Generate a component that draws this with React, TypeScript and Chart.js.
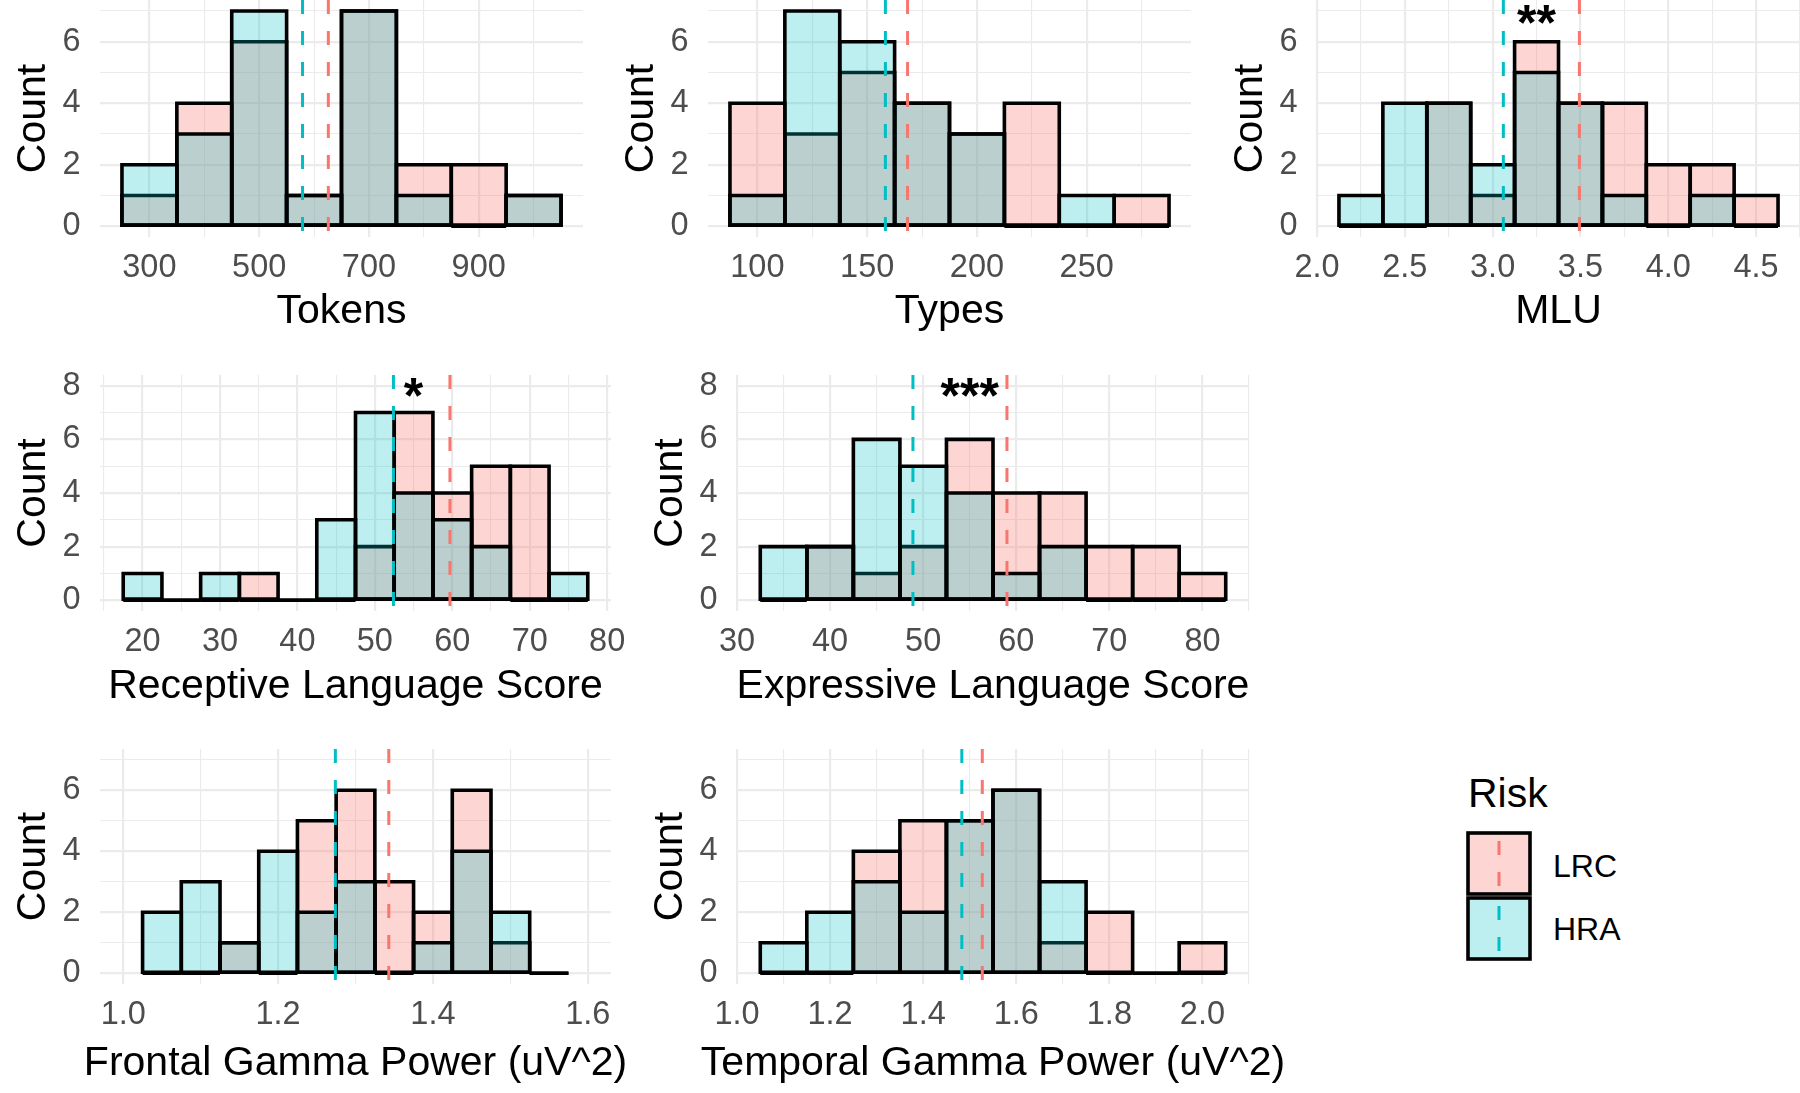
import React, { useEffect, useRef } from 'react';
import { Chart, registerables } from 'chart.js';

Chart.register(...registerables);

// ---------------- DATA ----------------
const GROUPS = ['LRC', 'HRA'];

// Tokens
const tokensBins = [300, 400, 500, 600, 700, 800, 900, 1000];
const tokensLRC = [1, 4, 6, 1, 7, 2, 2, 1];
const tokensHRA = [2, 3, 7, 1, 7, 1, 0, 1];
const tokensMeans = [626, 579]; // LRC, HRA
const tokensMajor = [300, 500, 700, 900];
const tokensMinor = [400, 600, 800, 1000];

// Types
const typesBins = [100, 125, 150, 175, 200, 225, 250, 275];
const typesLRC = [4, 3, 5, 4, 3, 4, 0, 1];
const typesHRA = [1, 7, 6, 4, 3, 0, 1, 0];
const typesMeans = [168.4, 158.3];
const typesMajor = [100, 150, 200, 250];
const typesMinor = [125, 175, 225, 275];

// MLU
const mluBins = [2.25, 2.5, 2.75, 3.0, 3.25, 3.5, 3.75, 4.0, 4.25, 4.5];
const mluLRC = [0, 0, 4, 1, 6, 4, 4, 2, 2, 1];
const mluHRA = [1, 4, 4, 2, 5, 4, 1, 0, 1, 0];
const mluMeans = [3.494, 3.061];
const mluMajor = [2.0, 2.5, 3.0, 3.5, 4.0, 4.5];
const mluMinor = [2.25, 2.75, 3.25, 3.75, 4.25, 4.75];

// Receptive Language Score
const recBins = [20, 25, 30, 35, 40, 45, 50, 55, 60, 65, 70, 75];
const recLRC = [0, 0, 0, 1, 0, 0, 2, 7, 4, 5, 5, 0];
const recHRA = [1, 0, 1, 0, 0, 3, 7, 4, 3, 2, 0, 1];
const recMeans = [59.7, 52.4];
const recMajor = [20, 30, 40, 50, 60, 70, 80];
const recMinor = [15, 25, 35, 45, 55, 65, 75];

// Expressive Language Score
const expBins = [35, 40, 45, 50, 55, 60, 65, 70, 75, 80];
const expLRC = [0, 2, 1, 2, 6, 4, 4, 2, 2, 1];
const expHRA = [2, 2, 6, 5, 4, 1, 2, 0, 0, 0];
const expMeans = [59.0, 48.9];
const expMajor = [30, 40, 50, 60, 70, 80];
const expMinor = [35, 45, 55, 65, 75, 85];

// Frontal Gamma Power
const frontBins = [1.05, 1.1, 1.15, 1.2, 1.25, 1.3, 1.35, 1.4, 1.45, 1.5, 1.55];
const frontLRC = [0, 0, 1, 0, 5, 6, 3, 2, 6, 1, 0];
const frontHRA = [2, 3, 1, 4, 2, 3, 0, 1, 4, 2, 0];
const frontMeans = [1.343, 1.274];
const frontMajor = [1.0, 1.2, 1.4, 1.6];
const frontMinor = [1.1, 1.3, 1.5];

// Temporal Gamma Power
const tempBins = [1.1, 1.2, 1.3, 1.4, 1.5, 1.6, 1.7, 1.8, 1.9, 2.0];
const tempLRC = [0, 0, 4, 5, 5, 6, 1, 2, 0, 1];
const tempHRA = [1, 2, 3, 2, 5, 6, 3, 0, 0, 0];
const tempMeans = [1.527, 1.483];
const tempMajor = [1.0, 1.2, 1.4, 1.6, 1.8, 2.0];
const tempMinor = [1.1, 1.3, 1.5, 1.7, 1.9, 2.1];

// y-axis ticks
const yMajor7 = [0, 2, 4, 6];
const yMinor7 = [1, 3, 5, 7];
const yMajor8 = [0, 2, 4, 6, 8];
const yMinor8 = [1, 3, 5, 7];

// significance labels
const mluStar = { label: '**', x: 3.25, y: 6.5 };
const recStar = { label: '*', x: 55, y: 7.5 };
const expStar = { label: '***', x: 55, y: 7.5 };

// ---------------- STYLE ----------------
const FONT = '"Liberation Sans", Arial, Helvetica, sans-serif';
const FILLS = ['rgba(248,118,109,0.3)', 'rgba(0,191,196,0.26)'];
const LINES = ['#F8766D', '#00BFC4'];
const GRID = '#EBEBEB';
const TICK_COLOR = '#4D4D4D';
const TITLE_SIZE = 41;

const near = (a: number, b: number) => Math.abs(a - b) < 1e-9;

type Panel = {
  title: string;
  bins: number[];
  lrc: number[];
  hra: number[];
  means: number[];
  xMin: number;
  xMax: number;
  xMajor: number[];
  xMinor: number[];
  dec: number;
  yMin: number;
  yMax: number;
  yMajor: number[];
  yMinor: number[];
  star: { label: string; x: number; y: number } | null;
  left: number;
  right: number;
  top: number;
  bottom: number;
  xAxisH: number;
  titleOffset: number;
};

const ROW1 = { top: 0, bottom: 237, yMin: -0.35, yMax: 7.357, xAxisH: 100, titleOffset: 74.5 };
const ROW2 = { top: 375, bottom: 611, yMin: -0.4, yMax: 8.4, xAxisH: 101, titleOffset: 75.5 };
const ROW3 = { top: 749, bottom: 984, yMin: -0.35, yMax: 7.35, xAxisH: 106, titleOffset: 79.5 };

const PANELS: Panel[] = [
  { title: 'Tokens', bins: tokensBins, lrc: tokensLRC, hra: tokensHRA, means: tokensMeans, xMin: 210, xMax: 1090, xMajor: tokensMajor, xMinor: tokensMinor, dec: 0, yMajor: yMajor7, yMinor: yMinor7, star: null, left: 100, right: 583, ...ROW1 },
  { title: 'Types', bins: typesBins, lrc: typesLRC, hra: typesHRA, means: typesMeans, xMin: 77.5, xMax: 297.5, xMajor: typesMajor, xMinor: typesMinor, dec: 0, yMajor: yMajor7, yMinor: yMinor7, star: null, left: 708, right: 1191, ...ROW1 },
  { title: 'MLU', bins: mluBins, lrc: mluLRC, hra: mluHRA, means: mluMeans, xMin: 2.0, xMax: 4.75, xMajor: mluMajor, xMinor: mluMinor, dec: 1, yMajor: yMajor7, yMinor: yMinor7, star: mluStar, left: 1317, right: 1800, ...ROW1 },
  { title: 'Receptive Language Score', bins: recBins, lrc: recLRC, hra: recHRA, means: recMeans, xMin: 14.5, xMax: 80.5, xMajor: recMajor, xMinor: recMinor, dec: 0, yMajor: yMajor8, yMinor: yMinor8, star: recStar, left: 100, right: 611, ...ROW2 },
  { title: 'Expressive Language Score', bins: expBins, lrc: expLRC, hra: expHRA, means: expMeans, xMin: 30, xMax: 85, xMajor: expMajor, xMinor: expMinor, dec: 0, yMajor: yMajor8, yMinor: yMinor8, star: expStar, left: 737, right: 1249, ...ROW2 },
  { title: 'Frontal Gamma Power (uV^2)', bins: frontBins, lrc: frontLRC, hra: frontHRA, means: frontMeans, xMin: 0.97, xMax: 1.63, xMajor: frontMajor, xMinor: frontMinor, dec: 1, yMajor: yMajor7, yMinor: yMinor7, star: null, left: 100, right: 611, ...ROW3 },
  { title: 'Temporal Gamma Power (uV^2)', bins: tempBins, lrc: tempLRC, hra: tempHRA, means: tempMeans, xMin: 1.0, xMax: 2.1, xMajor: tempMajor, xMinor: tempMinor, dec: 1, yMajor: yMajor7, yMinor: yMinor7, star: null, left: 737, right: 1249, ...ROW3 },
];

// ---------------- PLUGINS ----------------
const outlinePlugin = {
  id: 'histOutline',
  afterDatasetDraw(chart: any, args: any) {
    const meta = args.meta;
    if (meta.type !== 'bar') return;
    const ctx = chart.ctx;
    ctx.save();
    ctx.strokeStyle = '#000';
    ctx.lineWidth = 3.6;
    ctx.lineJoin = 'miter';
    meta.data.forEach((el: any) => {
      const { x, y, base, width } = el.getProps(['x', 'y', 'base', 'width'], true);
      const left = x - width / 2;
      const top = Math.min(y, base);
      const h = Math.abs(base - y);
      ctx.beginPath();
      if (h < 0.5) {
        ctx.moveTo(left, base);
        ctx.lineTo(left + width, base);
      } else {
        ctx.rect(left, top, width, h);
      }
      ctx.stroke();
    });
    ctx.restore();
  },
};

const starPlugin = {
  id: 'sigStar',
  afterDatasetsDraw(chart: any, _args: any, opts: any) {
    if (!opts || !opts.label) return;
    const ctx = chart.ctx;
    const px = chart.scales.x.getPixelForValue(opts.x);
    const py = chart.scales.y.getPixelForValue(opts.y);
    ctx.save();
    ctx.font = `bold 50px ${FONT}`;
    ctx.fillStyle = '#000';
    ctx.textAlign = 'center';
    ctx.textBaseline = 'middle';
    ctx.fillText(opts.label, px, py);
    ctx.restore();
  },
};

// x-axis title drawn without Chart.js' maxWidth squeezing
const xTitlePlugin = {
  id: 'xTitle',
  afterDraw(chart: any, _args: any, opts: any) {
    if (!opts || !opts.text) return;
    const ctx = chart.ctx;
    const area = chart.chartArea;
    ctx.save();
    ctx.font = `${TITLE_SIZE}px ${FONT}`;
    ctx.fillStyle = '#000';
    ctx.textAlign = 'center';
    ctx.textBaseline = 'middle';
    ctx.fillText(opts.text, (area.left + area.right) / 2, area.bottom + opts.offset);
    ctx.restore();
  },
};

const Y_AXIS_W = 100;
const TOP_PAD = 10;
const RIGHT_EXTRA = 48;

function HistPanel({ p }: { p: Panel }) {
  const ref = useRef<HTMLCanvasElement | null>(null);
  const cLeft = p.left - Y_AXIS_W;
  const topPad = p.top >= TOP_PAD ? TOP_PAD : p.top;
  const cTop = p.top - topPad;
  const cw = Math.ceil(p.right - cLeft + (p.right >= 1800 ? 0 : RIGHT_EXTRA));
  const rightPad = cw - (p.right - cLeft);
  const ch = Math.round(p.bottom - cTop + p.xAxisH);
  const bottomPad = ch - (p.bottom - cTop + p.xAxisH);

  useEffect(() => {
    const canvas = ref.current;
    if (!canvas) return;
    const xTicks = [...p.xMajor, ...p.xMinor].filter((v) => v >= p.xMin - 1e-9 && v <= p.xMax + 1e-9).sort((a, b) => a - b);
    const yTicks = [...p.yMajor, ...p.yMinor].sort((a, b) => a - b);
    const isXMajor = (v: number) => p.xMajor.some((m) => near(m, v));
    const isYMajor = (v: number) => p.yMajor.some((m) => near(m, v));
    const barData = (arr: number[]) => p.bins.map((b, i) => ({ x: b, y: arr[i] }));
    const meanLine = (m: number) => [
      { x: m, y: p.yMax },
      { x: m, y: p.yMin },
    ];
    const tickFont = { family: FONT, size: 32.5, lineHeight: 1 };
    const titleFont = { family: FONT, size: TITLE_SIZE, lineHeight: 1 };

    const chart = new Chart(canvas, {
      type: 'bar',
      data: {
        datasets: [
          { type: 'bar', label: GROUPS[0], data: barData(p.lrc), backgroundColor: FILLS[0], borderWidth: 0, grouped: false, categoryPercentage: 1, barPercentage: 1, order: 2 } as any,
          { type: 'bar', label: GROUPS[1], data: barData(p.hra), backgroundColor: FILLS[1], borderWidth: 0, grouped: false, categoryPercentage: 1, barPercentage: 1, order: 1 } as any,
          { type: 'line', label: GROUPS[0] + ' mean', data: meanLine(p.means[0]), borderColor: LINES[0], borderWidth: 3, borderDash: [14, 17], pointRadius: 0, fill: false, order: 0 } as any,
          { type: 'line', label: GROUPS[1] + ' mean', data: meanLine(p.means[1]), borderColor: LINES[1], borderWidth: 3, borderDash: [14, 17], pointRadius: 0, fill: false, order: 0 } as any,
        ],
      },
      options: {
        responsive: false,
        maintainAspectRatio: false,
        devicePixelRatio: 1,
        animation: false,
        events: [],
        layout: { padding: { left: 0, top: topPad, right: rightPad, bottom: bottomPad } },
        plugins: {
          legend: { display: false },
          tooltip: { enabled: false },
          sigStar: p.star || {},
          xTitle: { text: p.title, offset: p.titleOffset },
        } as any,
        scales: {
          x: {
            type: 'linear',
            position: 'bottom',
            offset: false,
            min: p.xMin,
            max: p.xMax,
            afterBuildTicks: (s: any) => {
              s.ticks = xTicks.map((v) => ({ value: v }));
            },
            afterFit: (s: any) => {
              s.height = p.xAxisH;
              s.paddingLeft = 0;
              s.paddingRight = 0;
            },
            ticks: {
              autoSkip: false,
              maxRotation: 0,
              minRotation: 0,
              padding: 14.5,
              color: TICK_COLOR,
              font: tickFont,
              callback: (v: any) => (isXMajor(Number(v)) ? Number(v).toFixed(p.dec) : ''),
            },
            grid: {
              offset: false,
              color: GRID,
              drawTicks: false,
              lineWidth: (ctx: any) => (ctx.tick && isXMajor(ctx.tick.value) ? 2.2 : 1.1),
            },
            border: { display: false },
            title: { display: false },
          },
          y: {
            type: 'linear',
            min: p.yMin,
            max: p.yMax,
            afterBuildTicks: (s: any) => {
              s.ticks = yTicks.map((v) => ({ value: v }));
            },
            afterFit: (s: any) => {
              s.width = Y_AXIS_W;
              s.paddingTop = 0;
              s.paddingBottom = 0;
            },
            ticks: {
              autoSkip: false,
              padding: 19.5,
              color: TICK_COLOR,
              font: tickFont,
              callback: (v: any) => (isYMajor(Number(v)) ? String(Number(v)) : ''),
            },
            grid: {
              color: GRID,
              drawTicks: false,
              lineWidth: (ctx: any) => (ctx.tick && isYMajor(ctx.tick.value) ? 2.2 : 1.1),
            },
            border: { display: false },
            title: { display: true, text: 'Count', color: '#000', font: titleFont, padding: { top: 13, bottom: 0 } },
          },
        },
      } as any,
      plugins: [outlinePlugin, starPlugin, xTitlePlugin] as any,
    });
    return () => chart.destroy();
  }, []);

  return (
    <canvas
      ref={ref}
      width={cw}
      height={ch}
      style={{ position: 'absolute', left: cLeft, top: cTop, width: cw, height: ch }}
    />
  );
}

function LegendKey({ fill, line, top }: { fill: string; line: string; top: number }) {
  return (
    <svg style={{ position: 'absolute', left: 1466, top, width: 66, height: 65 }} width={66} height={65}>
      <rect x={2} y={2} width={62} height={61} fill={fill} stroke="none" />
      <line x1={33} y1={0} x2={33} y2={65} stroke={line} strokeWidth={3} strokeDasharray="14 17" strokeDashoffset={-10} />
      <rect x={2} y={2} width={62} height={61} fill="none" stroke="#000" strokeWidth={3.6} />
    </svg>
  );
}

export default function App() {
  return (
    <div
      style={{
        position: 'absolute',
        left: 0,
        top: 0,
        width: 1800,
        height: 1093,
        overflow: 'hidden',
        background: '#fff',
        fontFamily: FONT,
      }}
    >
      {PANELS.map((p) => (
        <HistPanel key={p.title} p={p} />
      ))}
      <div style={{ position: 'absolute', left: 1468, top: 773, fontSize: 41, lineHeight: '41px', color: '#000' }}>Risk</div>
      <LegendKey fill={FILLS[0]} line={LINES[0]} top={831} />
      <LegendKey fill={FILLS[1]} line={LINES[1]} top={896} />
      <div style={{ position: 'absolute', left: 1553, top: 850, fontSize: 32, lineHeight: '32px', color: '#000' }}>{GROUPS[0]}</div>
      <div style={{ position: 'absolute', left: 1553, top: 913, fontSize: 32, lineHeight: '32px', color: '#000' }}>{GROUPS[1]}</div>
    </div>
  );
}
